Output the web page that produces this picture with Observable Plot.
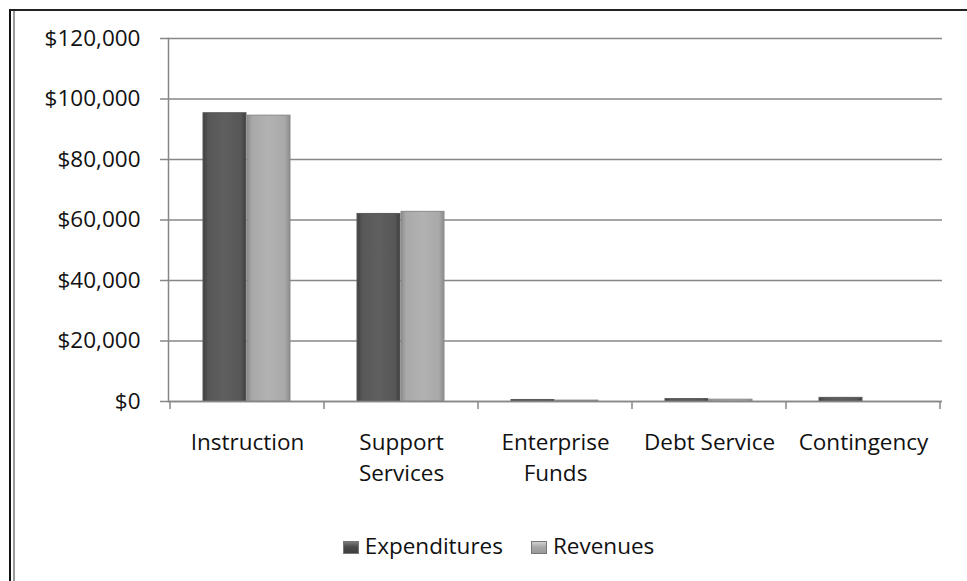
<!DOCTYPE html>
<html>
<head>
<meta charset="utf-8">
<script src="https://cdn.jsdelivr.net/npm/d3@7"></script>
<script src="https://cdn.jsdelivr.net/npm/@observablehq/plot@0.6"></script>
<style>
  html, body { margin: 0; padding: 0; background: #fff; }
  #wrap { position: relative; width: 967px; height: 581px; overflow: hidden; font-family: "Open Sans", sans-serif; }
  #frameOuter { position: absolute; left: 9px; top: 9px; right: -10px; bottom: -10px; border-left: 2px solid #111; border-top: 2px solid #222; }
  #frameInner { position: absolute; left: 13px; top: 11px; bottom: -10px; border-left: 2px solid #9a9a9a; }
  #chart { position: absolute; left: 0; top: 0; }
  #legend { position: absolute; top: 530px; left: 15px; width: 967px; text-align: center; font-size: 22.5px; color: #111; white-space: nowrap; }
  #legend span.item { display: inline-block; margin: 0 14px; }
  #legend span.sw { display: inline-block; width: 16px; height: 13px; margin-right: 6px; vertical-align: 0px; border: 1px solid #777; box-sizing: border-box; }
</style>
</head>
<body>
<div id="wrap">
  <div id="frameOuter"></div>
  <div id="frameInner"></div>
  <div id="chart"></div>
  <div id="legend"></div>
</div>
<script>
const categories = ["Instruction", "Support Services", "Enterprise Funds", "Debt Service", "Contingency"];
const categoryLabels = ["Instruction", "Support\nServices", "Enterprise\nFunds", "Debt Service", "Contingency"];
const seriesNames = ["Expenditures", "Revenues"];
const expenditures = [95300, 62000, 500, 800, 1200];
const revenues = [94500, 62700, 300, 600, 0];
const yTicks = [0, 20000, 40000, 60000, 80000, 100000, 120000];

const data = categories.flatMap((c, i) => [
  {category: c, series: seriesNames[0], value: expenditures[i]},
  {category: c, series: seriesNames[1], value: revenues[i]}
]);
const labelOf = new Map(categories.map((c, i) => [c, categoryLabels[i]]));

const fontSize = 22.5;

const boundaryTicks = (index, scales, values, dims) => {
  const x = scales.x, y = scales.y;
  const g = d3.create("svg:g").attr("stroke", "#878787").attr("stroke-width", 1.5);
  const y0 = y(0);
  const edges = categories.map(c => x(c)).concat([x(categories[categories.length - 1]) + x.bandwidth()]);
  for (const e of edges) {
    g.append("line").attr("x1", e).attr("x2", e).attr("y1", y0).attr("y2", y0 + 8);
  }
  return g.node();
};

const chart = Plot.plot({
  width: 967,
  height: 520,
  marginLeft: 168,
  marginRight: 25,
  marginTop: 38,
  marginBottom: 119,
  style: {fontFamily: "Open Sans, sans-serif", fontSize: fontSize + "px", color: "#111", background: "transparent", overflow: "visible"},
  x: {domain: categories, padding: 0, axis: null},
  y: {domain: [0, 120000], axis: null},
  color: {domain: seriesNames, range: ["url(#gExp)", "url(#gRev)"]},
  marks: [
    Plot.gridY(yTicks, {stroke: "#878787", strokeOpacity: 1, strokeWidth: 1.5}),
    Plot.axisY({ticks: yTicks, label: null, tickSize: 8, tickPadding: 20, stroke: "#878787", strokeWidth: 1.5, tickFormat: d => "$" + d3.format(",")(d), fontSize: fontSize, fill: "#111"}),
    Plot.barY(data.filter(d => d.series === seriesNames[0]), {x: "category", y: "value", fill: "series", stroke: "#5a5a5a", strokeWidth: 1, insetLeft: 33, insetRight: 78}),
    Plot.barY(data.filter(d => d.series === seriesNames[1]), {x: "category", y: "value", fill: "series", stroke: "#8a8a8a", strokeWidth: 1, insetLeft: 77, insetRight: 34}),
    Plot.frame({anchor: "left", stroke: "#878787", strokeWidth: 1.5}),
    Plot.ruleY([0], {stroke: "#878787", strokeWidth: 1.5}),
    boundaryTicks,
    Plot.axisX({label: null, tickSize: 0, tickPadding: 27, tickFormat: d => labelOf.get(d), fontSize: fontSize, lineHeight: 1.37, fill: "#111", textAnchor: "middle", lineAnchor: "top"})
  ]
});

const defs = d3.select(chart).insert("defs", ":first-child");
function grad(id, edge, mid, center) {
  const g = defs.append("linearGradient").attr("id", id).attr("x1", "0").attr("x2", "1").attr("y1", "0").attr("y2", "0");
  [[0, edge], [0.12, mid], [0.5, center], [0.88, mid], [1, edge]].forEach(([o, c]) => g.append("stop").attr("offset", o).attr("stop-color", c));
}
grad("gExp", "#3f3f3f", "#575757", "#5f5f5f");
grad("gRev", "#8c8c8c", "#a9a9a9", "#b2b2b2");

document.getElementById("chart").appendChild(chart);

const legend = document.getElementById("legend");
const swatchColors = ["linear-gradient(180deg,#7a7a7a,#4a4a4a 45%,#3f3f3f)", "linear-gradient(180deg,#d0d0d0,#a8a8a8 45%,#999)"];
seriesNames.forEach((s, i) => {
  const item = document.createElement("span");
  item.className = "item";
  const sw = document.createElement("span");
  sw.className = "sw";
  sw.style.background = swatchColors[i];
  item.appendChild(sw);
  item.appendChild(document.createTextNode(s));
  legend.appendChild(item);
});
</script>
</body>
</html>
